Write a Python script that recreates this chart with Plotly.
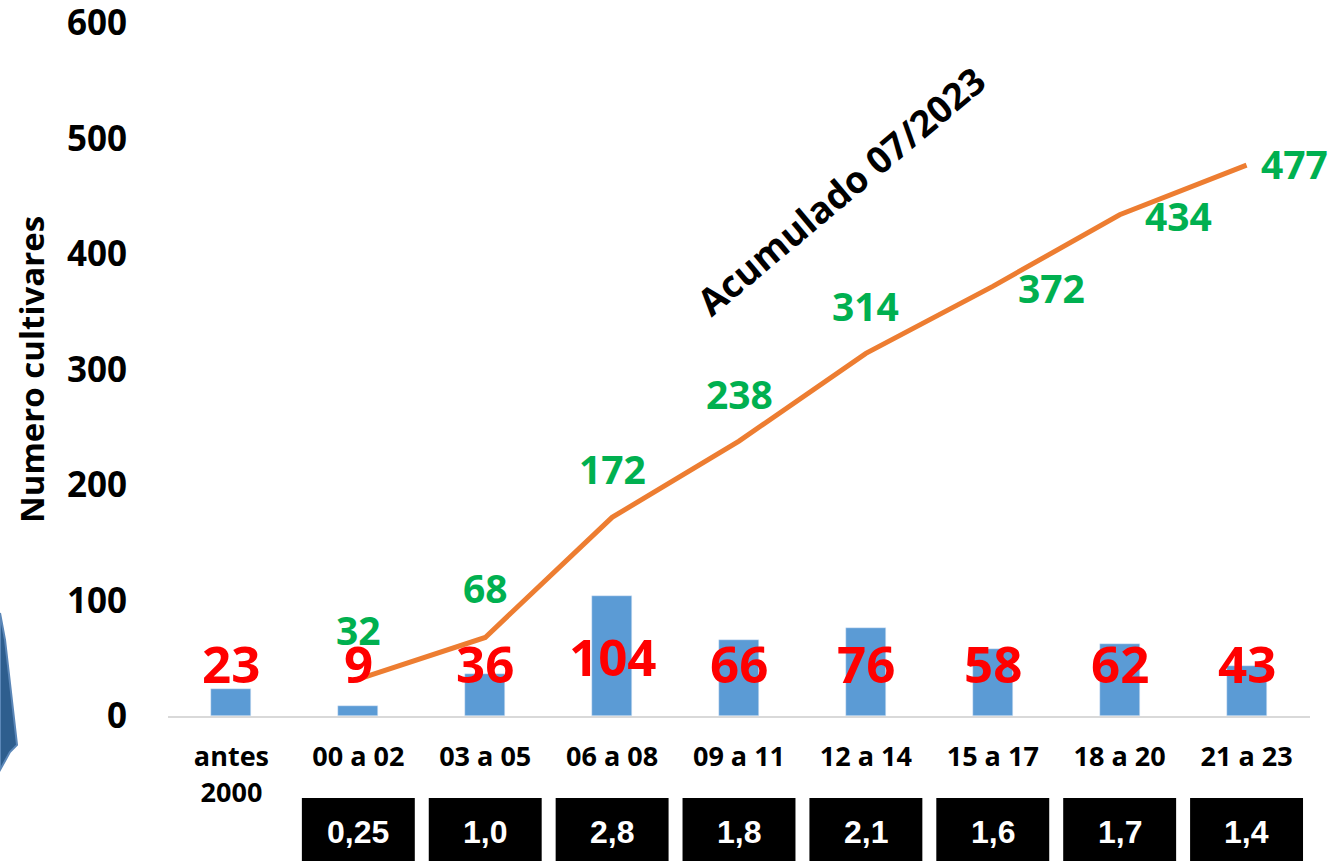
import plotly.graph_objects as go

categories = ["antes<br>2000", "00 a 02", "03 a 05", "06 a 08", "09 a 11",
              "12 a 14", "15 a 17", "18 a 20", "21 a 23"]
annual = [23, 9, 36, 104, 66, 76, 58, 62, 43]
cumulative = [None, 32, 68, 172, 238, 314, 372, 434, 477]
box_values = [None, "0,25", "1,0", "2,8", "1,8", "2,1", "1,6", "1,7", "1,4"]

# label placement offsets (styling only)
green_dx = [0, 0, 0, 0, 0, 0, 0.46, 0.46, 0.38]
green_y = [None, 75, 111, 214, 279, 355, 371, 433, 478]
red_y = [46, 46, 46, 52, 46, 46, 46, 46, 46]

font = "Open Sans, Calibri, Carlito, Arial"
x = list(range(len(categories)))

fig = go.Figure()
fig.add_trace(go.Bar(x=x, y=annual, width=0.315, marker_color="#5B9BD5",
                     showlegend=False, hoverinfo="skip"))
fig.add_trace(go.Scatter(x=x[1:], y=cumulative[1:], mode="lines",
                         line=dict(color="#ED7D31", width=5), showlegend=False,
                         hoverinfo="skip"))

ann = []
for i, v in enumerate(annual):
    ann.append(dict(x=i, y=red_y[i], text=str(v), showarrow=False, xref="x", yref="y",
                    font=dict(family=font, size=51, color="#FF0000", weight="bold")))
for i, v in enumerate(cumulative):
    if v is None:
        continue
    ann.append(dict(x=i + green_dx[i], y=green_y[i], text=str(v), showarrow=False,
                    xref="x", yref="y",
                    font=dict(family=font, size=39, color="#00B050", weight="bold")))
ann.append(dict(x=4.8, y=455, text="Acumulado 07/2023", textangle=-40, showarrow=False,
                xref="x", yref="y",
                font=dict(family=font, size=37, color="#000000", weight="bold")))

shapes = []
for i, t in enumerate(box_values):
    if t is None:
        continue
    shapes.append(dict(type="rect", xref="x", yref="paper", x0=i - 0.445, x1=i + 0.445,
                       y0=-0.215, y1=-0.1183, fillcolor="black", line=dict(width=0),
                       layer="above"))
    ann.append(dict(x=i, y=-0.1674, xref="x", yref="paper", text=t, showarrow=False,
                    yanchor="middle",
                    font=dict(family="Liberation Sans Narrow, Arial Narrow, Arial",
                              size=32, color="white", weight="bold")))

# decorative left-edge fragment
shapes.append(dict(type="path", xref="paper", yref="paper",
                   path="M -0.1471,0.1486 L -0.1427,0.1097 L -0.1322,-0.0418 L -0.1384,-0.052 L -0.1471,-0.0779 Z",
                   fillcolor="#2E5E8E", line=dict(color="#5B87B8", width=2)))

fig.update_layout(
    width=1332, height=861,
    margin=dict(l=168, r=22, t=23, b=145),
    plot_bgcolor="white", paper_bgcolor="white",
    bargap=0,
    annotations=ann, shapes=shapes,
    xaxis=dict(tickmode="array", tickvals=x, ticktext=categories, range=[-0.5, 8.5],
               showgrid=False, zeroline=False, showline=True, linecolor="#D9D9D9",
               linewidth=2, ticks="", ticklabelstandoff=16, automargin=False,
               tickfont=dict(family=font, size=27, color="black", weight="bold")),
    yaxis=dict(range=[0, 600], tickvals=[0, 100, 200, 300, 400, 500, 600],
               showgrid=False, zeroline=False, showline=False, ticks="",
               ticklabelstandoff=40, ticklabeloverflow="allow", automargin=False,
               tickfont=dict(family=font, size=35, color="black", weight="bold"),
               title=dict(text="Numero cultivares", standoff=12,
                          font=dict(family=font, size=33, color="black", weight="bold"))),
)

fig.write_html("out.html", config={"displayModeBar": False},
               post_script="document.body.style.margin='0';")
